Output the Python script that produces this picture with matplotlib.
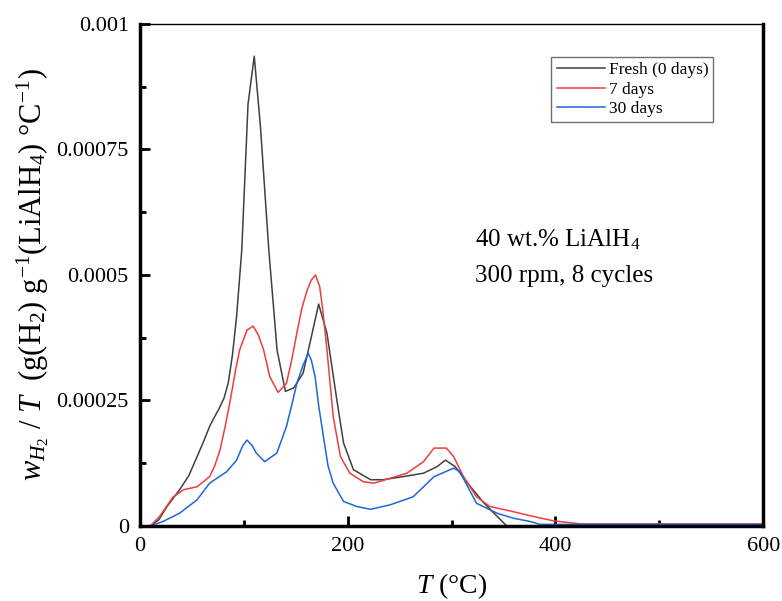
import numpy as np
import matplotlib
matplotlib.use('Agg')
import matplotlib.pyplot as plt
from matplotlib.ticker import MultipleLocator

plt.rcParams['font.family'] = ['Liberation Serif', 'DejaVu Serif']
plt.rcParams['mathtext.fontset'] = 'custom'
plt.rcParams['mathtext.rm'] = 'Liberation Serif'
plt.rcParams['mathtext.it'] = 'Liberation Serif:italic'

# temperature (C) and rate (x 1e-4 g(H2)/g(LiAlH4)/C)
T_fresh = [0, 10, 18, 26, 38, 47, 55, 62, 67, 72, 76, 81, 85, 89, 93, 98, 104, 110, 116, 124,
           132, 140, 148, 157, 165, 172, 180, 189.5, 196, 205.5, 222, 234, 253, 273, 286, 294,
           303.5, 315, 331, 344, 353, 400, 500, 600]
w_fresh = [0, 0, 0.12, 0.385, 0.717, 1.0, 1.38, 1.72, 1.98, 2.18, 2.33, 2.55, 2.85, 3.4, 4.17,
           5.5, 8.4, 9.36, 7.95, 5.5, 3.5, 2.68, 2.75, 3.04, 3.77, 4.42, 3.84, 2.51, 1.65, 1.12,
           0.92, 0.92, 0.98, 1.05, 1.18, 1.31, 1.18, 0.86, 0.46, 0.186, 0, 0, 0, 0]

T_7d = [0, 10, 19, 32, 42, 55, 67, 72, 77, 82, 87, 92, 96, 103, 109, 114, 119, 125, 133, 141,
        146, 151, 156, 161, 165, 169, 173, 176, 180, 186, 193, 202, 215, 225, 241, 257, 273,
        283, 295, 302, 311.5, 324, 337, 360, 376, 398, 424, 500, 600]
w_7d = [0, 0, 0.19, 0.58, 0.72, 0.78, 0.98, 1.2, 1.51, 1.98, 2.51, 3.1, 3.51, 3.9, 3.98, 3.8,
        3.51, 2.97, 2.66, 2.84, 3.3, 3.84, 4.35, 4.7, 4.9, 5.0, 4.77, 4.3, 3.51, 2.18, 1.38,
        1.05, 0.88, 0.85, 0.95, 1.05, 1.28, 1.55, 1.55, 1.38, 0.98, 0.58, 0.385, 0.28, 0.2,
        0.1, 0.04, 0.04, 0.04]

T_30d = [0, 10, 22, 38, 55, 67, 83.5, 93, 99, 103, 108, 112, 120, 131.7, 141, 146, 151, 157,
         162, 165, 168.6, 172, 176.6, 181, 186, 196, 209, 222, 241, 263, 283, 302, 308, 315,
         324, 344, 360, 376, 385, 500, 600]
w_30d = [0, 0, 0.086, 0.25, 0.52, 0.85, 1.08, 1.31, 1.6, 1.71, 1.6, 1.45, 1.28, 1.45, 1.98,
         2.4, 2.84, 3.2, 3.44, 3.3, 2.97, 2.4, 1.78, 1.2, 0.85, 0.485, 0.385, 0.33, 0.42, 0.58,
         0.98, 1.15, 1.08, 0.8, 0.45, 0.25, 0.15, 0.086, 0.03, 0.03, 0.03]

fig = plt.figure(figsize=(7.82, 6.01), dpi=100)
ax = fig.add_axes([0.179, 0.125, 0.797, 0.835])

ax.plot(T_fresh, np.array(w_fresh) * 1e-4, color='#404040', lw=1.1, label='Fresh (0 days)')
ax.plot(T_7d, np.array(w_7d) * 1e-4, color='#f03c3c', lw=1.1, label='7 days')
ax.plot(T_30d, np.array(w_30d) * 1e-4, color='#1f66d6', lw=1.1, label='30 days')

ax.set_xlim(0, 600)
ax.set_ylim(0, 0.001)
ax.xaxis.set_major_locator(MultipleLocator(200))
ax.xaxis.set_minor_locator(MultipleLocator(100))
ax.yaxis.set_major_locator(MultipleLocator(0.00025))
ax.yaxis.set_minor_locator(MultipleLocator(0.000125))
ax.set_yticks([0, 0.00025, 0.0005, 0.00075, 0.001])
ax.set_yticklabels(['0', '0.00025', '0.0005', '0.00075', '0.001'])
ax.tick_params(which='both', direction='in', top=False, right=False, labelsize=16, width=2)
ax.tick_params(which='major', length=7, pad=8)
ax.tick_params(which='minor', length=4)

for s in ['left', 'bottom', 'right']:
    ax.spines[s].set_linewidth(2.5)
ax.spines['top'].set_linewidth(1)

ax.set_xlabel(r'$T$ (°C)', fontsize=20, labelpad=11)
ax.set_ylabel(r'$w_{H_2}$ / $T$  (g(H$_2$) g$^{-1}$(LiAlH$_4$) °C$^{-1}$)', fontsize=22, labelpad=4)

ax.text(0.538, 0.57, r'40 wt.% LiAlH$_4$', transform=ax.transAxes, fontsize=18, va='center')
ax.text(0.538, 0.498, '300 rpm, 8 cycles', transform=ax.transAxes, fontsize=18, va='center')

leg = ax.legend(loc='upper left', bbox_to_anchor=(0.66, 0.935), fontsize=12.5, fancybox=False,
                edgecolor='#707070', framealpha=1, borderaxespad=0, handlelength=2.8,
                handletextpad=0.2, labelspacing=0.2, borderpad=0.3)
leg.get_frame().set_linewidth(1)

plt.savefig('out.png', dpi=100)
